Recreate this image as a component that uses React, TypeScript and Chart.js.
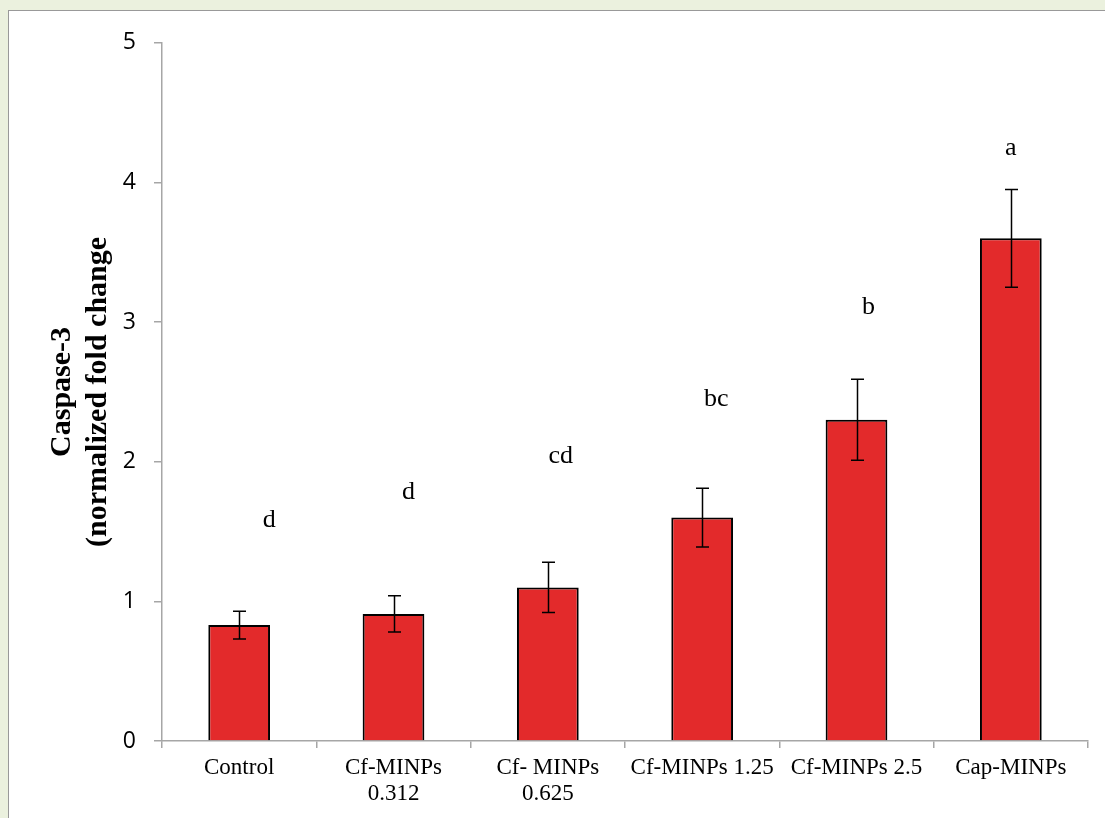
import React, { useEffect, useRef } from 'react';
import { Chart, registerables } from 'chart.js';

Chart.register(...registerables);

const categories: (string | string[])[] = [
  'Control',
  ['Cf-MINPs', '0.312'],
  ['Cf- MINPs', '0.625'],
  'Cf-MINPs 1.25',
  'Cf-MINPs 2.5',
  'Cap-MINPs',
];
const values = [0.83, 0.91, 1.1, 1.6, 2.3, 3.6];
const errors = [0.1, 0.13, 0.18, 0.21, 0.29, 0.35];
const letters = ['d', 'd', 'cd', 'bc', 'b', 'a'];
const letterLevels = [1.53, 1.73, 1.99, 2.4, 3.06, 4.2];
const yTicks = [0, 1, 2, 3, 4, 5];
const yTitle = ['Caspase-3', '(normalized fold change'];

const letterShift = [30, 15, 13, 14, 12, 0];

const annotPlugin = {
  id: 'annot',
  afterDatasetsDraw(chart: any) {
    const ctx = chart.ctx;
    const ys = chart.scales.y;
    const meta = chart.getDatasetMeta(0);
    ctx.save();
    ctx.strokeStyle = '#000';
    ctx.lineWidth = 1.5;
    meta.data.forEach((bar: any, i: number) => {
      const x = Math.round(bar.x) + 0.5;
      const yt = ys.getPixelForValue(values[i] + errors[i]);
      const yb = ys.getPixelForValue(values[i] - errors[i]);
      ctx.beginPath();
      ctx.moveTo(x, yt);
      ctx.lineTo(x, yb);
      ctx.moveTo(x - 6.5, yt);
      ctx.lineTo(x + 6.5, yt);
      ctx.moveTo(x - 6.5, yb);
      ctx.lineTo(x + 6.5, yb);
      ctx.stroke();
    });
    ctx.font = '26px "Liberation Serif", "Times New Roman", serif';
    ctx.fillStyle = '#000';
    ctx.textAlign = 'center';
    ctx.textBaseline = 'alphabetic';
    letters.forEach((t, i) => {
      const bar = meta.data[i];
      ctx.fillText(t, bar.x + letterShift[i], ys.getPixelForValue(letterLevels[i]));
    });
    ctx.restore();
  },
};

export default function App() {
  const ref = useRef<HTMLCanvasElement>(null);
  useEffect(() => {
    if (!ref.current) return;
    const chart = new Chart(ref.current, {
      type: 'bar',
      data: {
        labels: categories,
        datasets: [
          {
            data: values,
            backgroundColor: '#e32a2b',
            borderColor: '#000',
            borderWidth: 2,
            borderSkipped: 'bottom',
            barPercentage: 0.4,
            categoryPercentage: 1,
          },
        ],
      },
      options: {
        responsive: false,
        animation: false,
        layout: { padding: { left: 0, right: 17, top: 29, bottom: 0 } },
        plugins: { legend: { display: false }, tooltip: { enabled: false } },
        scales: {
          x: {
            offset: true,
            grid: {
              offset: true,
              drawOnChartArea: false,
              drawTicks: true,
              tickLength: 7,
              color: '#a6a6a6',
              lineWidth: 1.5,
            },
            border: { color: '#a6a6a6', width: 1.5 },
            ticks: {
              color: '#000',
              padding: 6,
              maxRotation: 0,
              autoSkip: false,
              font: { family: '"Liberation Serif", "Times New Roman", serif', size: 23, lineHeight: 1.17 },
            },
            afterFit: (s: any) => {
              s.height = 77;
            },
          },
          y: {
            min: 0,
            max: 5,
            afterBuildTicks: (s: any) => {
              s.ticks = yTicks.map((v) => ({ value: v }));
            },
            grid: {
              drawOnChartArea: false,
              drawTicks: true,
              tickLength: 8,
              color: '#a6a6a6',
              lineWidth: 1.5,
            },
            border: { color: '#a6a6a6', width: 1.5 },
            ticks: {
              color: '#000',
              padding: 18,
              font: { family: '"Open Sans", sans-serif', size: 23 },
            },
            title: {
              display: true,
              text: yTitle,
              color: '#000',
              padding: { top: 35, bottom: 0 },
              font: { family: '"Liberation Serif", "Times New Roman", serif', size: 30, weight: 'bold', lineHeight: 1.2 },
            },
            afterFit: (s: any) => {
              s.width = 153;
            },
          },
        },
      },
      plugins: [annotPlugin],
    });
    return () => chart.destroy();
  }, []);

  return (
    <div style={{ position: 'fixed', left: 0, top: 0, width: 1105, height: 818, background: '#ebf1de', overflow: 'hidden' }}>
      <div
        style={{
          position: 'absolute',
          left: 8,
          top: 10,
          width: 1110,
          height: 820,
          background: '#fff',
          border: '1px solid #999',
        }}
      >
        <canvas ref={ref} width={1096} height={807} style={{ position: 'absolute', left: 0, top: 0, width: 1096, height: 807 }} />
      </div>
    </div>
  );
}
